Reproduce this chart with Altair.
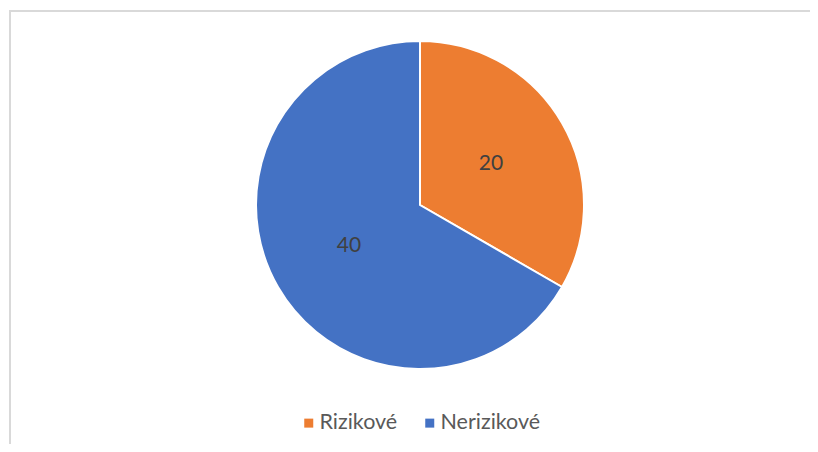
import altair as alt
import pandas as pd

categories = ["Rizikové", "Nerizikové"]
values = [20, 40]
colors = ["#ED7D31", "#4472C4"]

df = pd.DataFrame({"cat": categories, "val": values, "order": [0, 1]})

W, H = 802, 436
CX, CY = 411, 197
R = 164

base = alt.Chart(df).encode(
    theta=alt.Theta("val:Q", stack=True),
    order=alt.Order("order:Q"),
)

pie = base.mark_arc(stroke="white", strokeWidth=2, radius=R).encode(
    color=alt.Color(
        "cat:N",
        scale=alt.Scale(domain=categories, range=colors),
        sort=categories,
        legend=alt.Legend(
            title=None,
            orient="none",
            direction="horizontal",
            legendX=289,
            legendY=404,
            symbolType="square",
            symbolSize=81,
            symbolStrokeWidth=0,
            labelFont="Lato",
            labelFontSize=21.5,
            labelColor="#595959",
            columnPadding=21,
            labelOffset=0,
        ),
    ),
    x=alt.value(CX),
    y=alt.value(CY),
)

labels = base.mark_text(radius=82, font="Lato", fontSize=21, color="#404040").encode(
    text=alt.Text("val:Q"),
    x=alt.value(CX),
    y=alt.value(CY),
)

top_border = alt.Chart(df).mark_rule(color="#d9d9d9", strokeWidth=2).encode(
    x=alt.value(0), x2=alt.value(W), y=alt.value(3)
)
left_border = alt.Chart(df).mark_rule(color="#d9d9d9", strokeWidth=2).encode(
    x=alt.value(1), y=alt.value(2), y2=alt.value(H)
)

chart = alt.layer(top_border, left_border, pie, labels).properties(
    width=W,
    height=H,
    autosize=alt.AutoSizeParams(type="fit", contains="padding"),
    padding=0,
).configure_view(stroke=None)

chart.save("out.html", embed_options={"renderer": "svg", "actions": False})
